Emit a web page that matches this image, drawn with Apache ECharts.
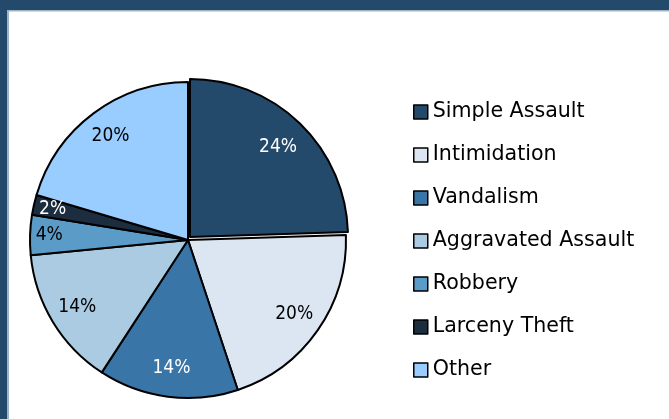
<!DOCTYPE html>
<html>
<head>
<meta charset="utf-8">
<script src="https://cdn.jsdelivr.net/npm/echarts@6/dist/echarts.min.js"></script>
<style>
  html, body { margin: 0; padding: 0; background: #ffffff; }
  #chart { width: 669px; height: 419px; }
</style>
</head>
<body>
<div id="chart"></div>
<script>
// Offence categories and their share of incidents (percent)
const categories = ['Simple Assault', 'Intimidation', 'Vandalism', 'Aggravated Assault', 'Robbery', 'Larceny Theft', 'Other'];
const percents = [24, 20, 14, 14, 4, 2, 20];
const sliceColors = ['#244a6b', '#dce6f2', '#3975a7', '#abcbe2', '#5b9bc8', '#1b2d3e', '#99ccff'];
const labelColors = ['#ffffff', '#000000', '#ffffff', '#000000', '#000000', '#ffffff', '#000000'];
const explodedIndex = 0; // the pulled-out slice

const FRAME = '#244a6b';
const FONT = 'DejaVu Sans';
const LABEL_FONT = "'DejaVu Sans Condensed', 'DejaVu Sans'";
const CENTER = [188, 240];
const OFFSET_CENTER = [190, 237];
const R = 158;
const SMALL_SLICE = 5; // thin slices get their labels pushed toward the rim

const chart = echarts.init(document.getElementById('chart'), null, { renderer: 'canvas' });

const clear = { color: 'rgba(0,0,0,0)', borderWidth: 0 };

const basePie = {
  type: 'pie',
  radius: R,
  startAngle: 90,
  clockwise: true,
  silent: true,
  avoidLabelOverlap: false,
  label: { show: false },
  labelLine: { show: false },
  emphasis: { disabled: true }
};

function pieData(visibleFn) {
  return categories.map((name, i) => ({
    name: name,
    value: percents[i],
    itemStyle: visibleFn(i)
      ? { color: sliceColors[i], borderColor: '#000000', borderWidth: 2 }
      : clear
  }));
}

// transparent ring whose inside-labels sit midway between its radii
function labelRing(name, inner, keep) {
  return Object.assign({}, basePie, {
    name: name,
    center: CENTER,
    radius: [R * inner, R],
    z: 5,
    label: {
      show: true,
      position: 'inside',
      fontFamily: LABEL_FONT,
      fontSize: 19,
      formatter: p => p.value + '%'
    },
    data: categories.map((n, i) => ({
      name: n,
      value: percents[i],
      itemStyle: clear,
      label: keep(i) ? { color: labelColors[i] } : { show: false }
    }))
  });
}

const option = {
  animation: false,
  backgroundColor: '#ffffff',
  graphic: [
    { type: 'rect', shape: { x: 0, y: 0, width: 669, height: 10 }, style: { fill: FRAME } },
    { type: 'rect', shape: { x: 0, y: 0, width: 7, height: 419 }, style: { fill: FRAME } },
    { type: 'rect', shape: { x: 7, y: 10, width: 662, height: 1.5 }, style: { fill: '#9fb3c6' } },
    { type: 'rect', shape: { x: 7, y: 10, width: 2, height: 409 }, style: { fill: '#9fb3c6' } }
  ],
  legend: {
    orient: 'vertical',
    left: 408,
    top: 96,
    icon: 'rect',
    itemWidth: 14,
    itemHeight: 14,
    itemGap: 21,
    itemTextGap: 8,
    selectedMode: false,
    textStyle: { fontFamily: FONT, fontSize: 20.6, color: '#000000', lineHeight: 22 },
    data: categories.map((name, i) => ({
      name: name,
      itemStyle: { color: sliceColors[i], borderColor: '#000000', borderWidth: 1.5 }
    }))
  },
  series: [
    Object.assign({}, basePie, {
      name: 'slices',
      center: CENTER,
      data: pieData(i => i !== explodedIndex)
    }),
    Object.assign({}, basePie, {
      name: 'exploded',
      center: OFFSET_CENTER,
      data: pieData(i => i === explodedIndex)
    }),
    labelRing('labels', 0.6, i => percents[i] >= SMALL_SLICE),
    labelRing('labels-thin', 0.72, i => percents[i] < SMALL_SLICE)
  ]
};

chart.setOption(option);
</script>
</body>
</html>
